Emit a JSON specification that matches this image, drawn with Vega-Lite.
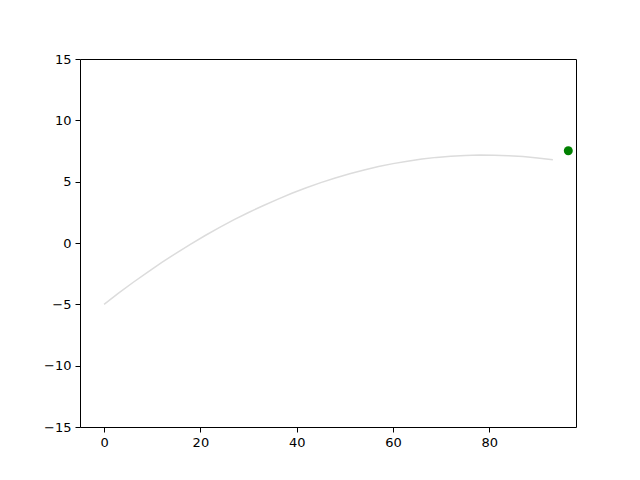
{
  "$schema": "https://vega.github.io/schema/vega-lite/v6.json",
  "width": 496,
  "height": 368,
  "autosize": {"type": "none"},
  "padding": {"left": 80, "top": 59, "right": 64, "bottom": 53},
  "background": "white",
  "config": {
    "view": {"stroke": "black", "strokeWidth": 1},
    "axis": {
      "grid": false,
      "domain": false,
      "tickColor": "black",
      "tickSize": 5,
      "tickWidth": 1,
      "labelColor": "black",
      "labelFont": "DejaVu Sans",
      "labelFontSize": 13,
      "labelPadding": 4,
      "title": null
    }
  },
  "datasets": {
    "path": [
      {"x": 0, "y": -5.0}, {"x": 3, "y": -4.09}, {"x": 6, "y": -3.22}, {"x": 9, "y": -2.39},
      {"x": 12, "y": -1.58}, {"x": 15, "y": -0.82}, {"x": 18, "y": -0.09}, {"x": 21, "y": 0.61},
      {"x": 24, "y": 1.27}, {"x": 27, "y": 1.9}, {"x": 30, "y": 2.49}, {"x": 33, "y": 3.04},
      {"x": 36, "y": 3.56}, {"x": 39, "y": 4.05}, {"x": 42, "y": 4.5}, {"x": 45, "y": 4.92},
      {"x": 48, "y": 5.3}, {"x": 51, "y": 5.64}, {"x": 54, "y": 5.95}, {"x": 57, "y": 6.23},
      {"x": 60, "y": 6.47}, {"x": 63, "y": 6.67}, {"x": 66, "y": 6.84}, {"x": 69, "y": 6.98},
      {"x": 72, "y": 7.07}, {"x": 75, "y": 7.14}, {"x": 78, "y": 7.17}, {"x": 81, "y": 7.16},
      {"x": 84, "y": 7.12}, {"x": 87, "y": 7.05}, {"x": 90, "y": 6.93}, {"x": 93.2, "y": 6.78}
    ],
    "ball": [{"x": 96.4, "y": 7.52}]
  },
  "layer": [
    {
      "data": {"name": "path"},
      "mark": {"type": "line", "color": "#dcdcdc", "strokeWidth": 1.5},
      "encoding": {
        "x": {"field": "x", "type": "quantitative", "scale": {"domain": [-5, 98], "nice": false, "zero": false},
              "axis": {"values": [0, 20, 40, 60, 80]}},
        "y": {"field": "y", "type": "quantitative", "scale": {"domain": [-15, 15], "nice": false},
              "axis": {"values": [-15, -10, -5, 0, 5, 10, 15], "labelExpr": "replace(datum.label, '-', '\u2212')"}}
      }
    },
    {
      "data": {"name": "ball"},
      "mark": {"type": "point", "filled": true, "color": "#008000", "size": 80, "opacity": 1},
      "encoding": {
        "x": {"field": "x", "type": "quantitative"},
        "y": {"field": "y", "type": "quantitative"}
      }
    }
  ]
}
